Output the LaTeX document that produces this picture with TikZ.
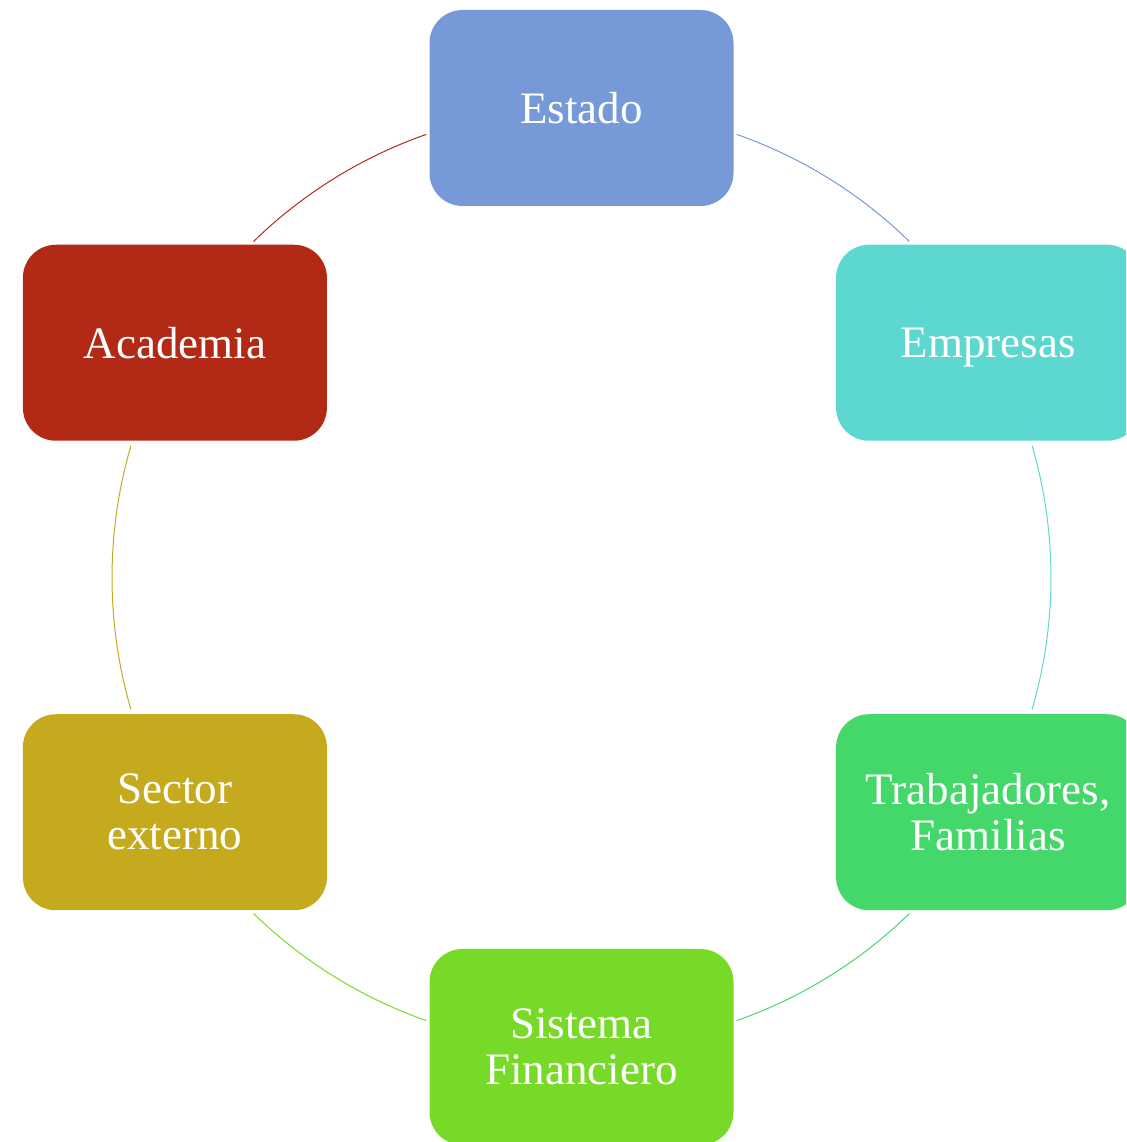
\documentclass[tikz,border=0pt]{standalone}
\usepackage{fontspec}
\setmainfont{Liberation Serif}
\usetikzlibrary{calc}
\definecolor{cEst}{RGB}{118,153,216}
\definecolor{cEmp}{RGB}{93,216,208}
\definecolor{cTra}{RGB}{68,216,106}
\definecolor{cSis}{RGB}{119,217,40}
\definecolor{cSec}{RGB}{198,170,30}
\definecolor{cAca}{RGB}{178,42,22}
\tikzset{
  boxnode/.style={rounded corners=16.5pt, minimum width=152pt, minimum height=98pt,
    inner sep=0pt, text=white, align=center,
    font=\fontsize{22.5pt}{23pt}\selectfont},
  ringline/.style={line width=0.5pt}
}
\begin{document}
\begin{tikzpicture}[x=0.5pt,y=0.5pt]
\useasboundingbox (0,0) rectangle (1126,1142);
\clip (0,0) rectangle (1126,1142);
\coordinate (c) at (581.5,564.5);
\def\R{469.5}
\node[boxnode, fill=cEst] (est) at ($(c)+(90:\R)$) {Estado};
\node[boxnode, fill=cEmp, text depth=0pt] (emp) at ($(c)+(30:\R)$) {Empresas};
\node[boxnode, fill=cTra] (tra) at ($(c)+(-30:\R)$) {Trabajadores,\\Familias};
\node[boxnode, fill=cSis] (sis) at ($(c)+(-90:\R)$) {Sistema\\Financiero};
\node[boxnode, fill=cSec] (sec) at ($(c)+(-150:\R)$) {Sector\\externo};
\node[boxnode, fill=cAca] (aca) at ($(c)+(150:\R)$) {Academia};
\draw[ringline, cEst] ($(c)+(70.7:\R)$) arc[start angle=70.7, end angle=45.7, radius=\R];
\draw[ringline, cEmp] ($(c)+(16.3:\R)$) arc[start angle=16.3, end angle=-16.3, radius=\R];
\draw[ringline, cTra] ($(c)+(-45.7:\R)$) arc[start angle=-45.7, end angle=-70.7, radius=\R];
\draw[ringline, cSis] ($(c)+(-109.3:\R)$) arc[start angle=-109.3, end angle=-134.3, radius=\R];
\draw[ringline, cSec] ($(c)+(-163.7:\R)$) arc[start angle=-163.7, end angle=-196.3, radius=\R];
\draw[ringline, cAca] ($(c)+(134.3:\R)$) arc[start angle=134.3, end angle=109.3, radius=\R];
\end{tikzpicture}
\end{document}
